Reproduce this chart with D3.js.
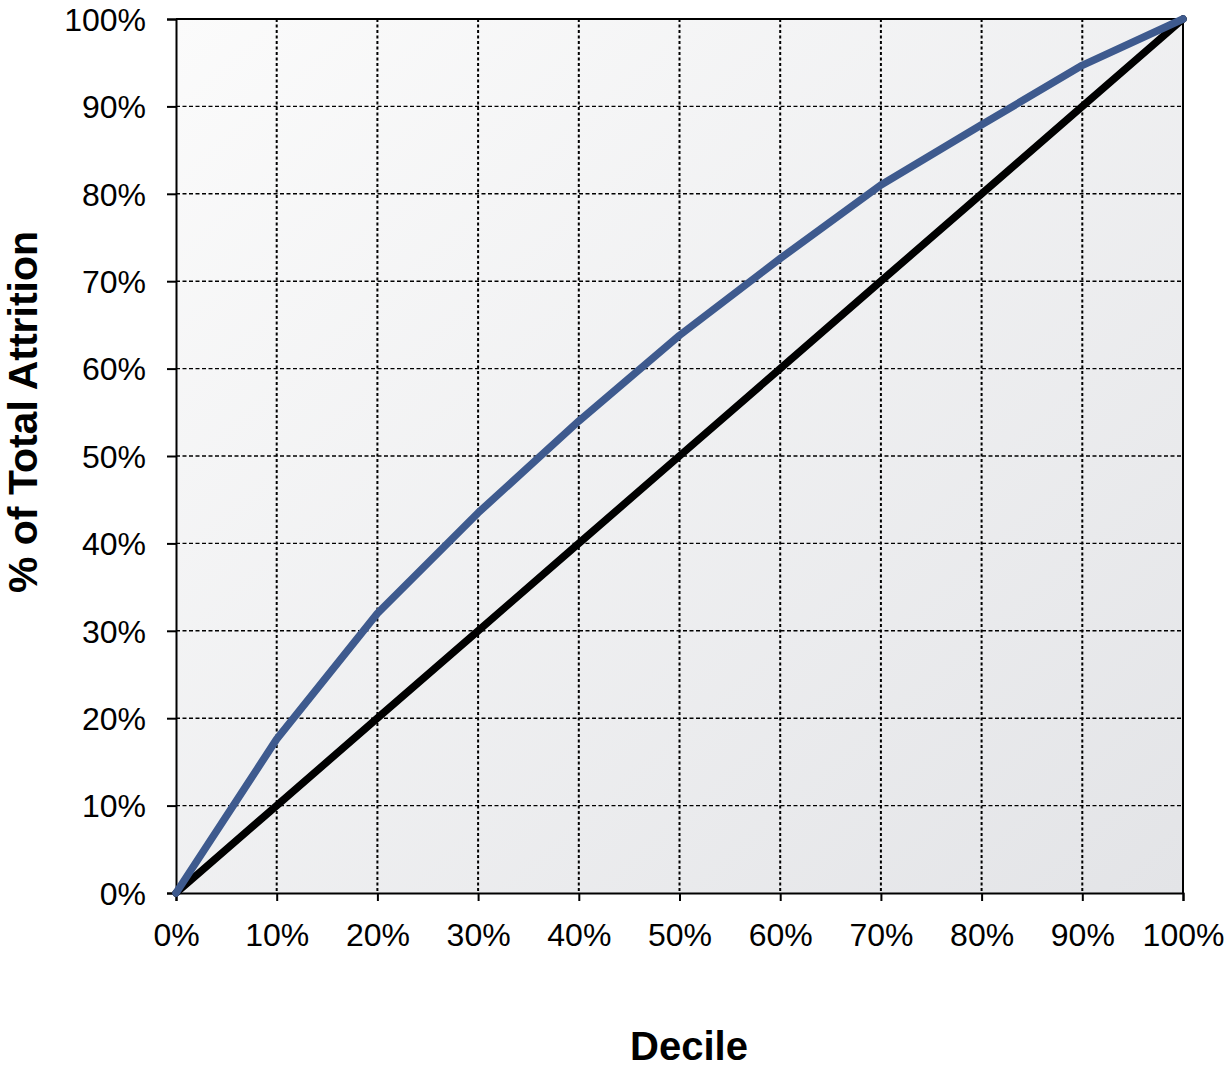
<!DOCTYPE html>
<html>
<head>
<meta charset="utf-8">
<script src="https://cdn.jsdelivr.net/npm/d3@7"></script>
<style>
  body { margin: 0; background: #fff; }
  text { font-family: "Liberation Sans", Arial, sans-serif; fill: #000; }
</style>
</head>
<body>
<div id="chart"></div>
<script>
(function() {
  // deciles (fraction of population) and cumulative attrition captured
  var deciles = [0, 0.1, 0.2, 0.3, 0.4, 0.5, 0.6, 0.7, 0.8, 0.9, 1.0];
  var modelValues = [0, 0.176, 0.32, 0.435, 0.54, 0.638, 0.726, 0.81, 0.879, 0.947, 1.0];
  var baselineValues = [0, 0.1, 0.2, 0.3, 0.4, 0.5, 0.6, 0.7, 0.8, 0.9, 1.0];
  var tickValues = [0, 0.1, 0.2, 0.3, 0.4, 0.5, 0.6, 0.7, 0.8, 0.9, 1.0];

  var WIDTH = 1227, HEIGHT = 1081;
  var margin = { left: 176, top: 19, right: 44, bottom: 188 };
  var w = WIDTH - margin.left - margin.right;
  var h = HEIGHT - margin.top - margin.bottom;

  var svg = d3.select('#chart').append('svg')
    .attr('width', WIDTH)
    .attr('height', HEIGHT);

  var defs = svg.append('defs');
  var grad = defs.append('linearGradient')
    .attr('id', 'bg')
    .attr('x1', '0%').attr('y1', '0%')
    .attr('x2', '100%').attr('y2', '100%');
  grad.append('stop').attr('offset', '0%').attr('stop-color', '#fbfbfb');
  grad.append('stop').attr('offset', '100%').attr('stop-color', '#e3e4e7');

  var g = svg.append('g')
    .attr('transform', 'translate(' + margin.left + ',' + margin.top + ')');

  var x = d3.scaleLinear().domain([0, 1]).range([0, w]);
  var y = d3.scaleLinear().domain([0, 1]).range([h, 0]);
  var pct = d3.format('.0%');

  g.append('rect')
    .attr('width', w)
    .attr('height', h)
    .style('fill', 'url(#bg)');

  // horizontal grid (dashed)
  g.selectAll('.hgrid')
    .data(tickValues.slice(1, -1))
    .enter().append('line')
      .attr('class', 'hgrid')
      .attr('x1', 0).attr('x2', w)
      .attr('y1', function(d) { return y(d); })
      .attr('y2', function(d) { return y(d); })
      .style('stroke', '#000')
      .style('stroke-width', 1.4)
      .style('stroke-dasharray', '4,2.5');

  // vertical grid (dotted)
  g.selectAll('.vgrid')
    .data(tickValues.slice(1, -1))
    .enter().append('line')
      .attr('class', 'vgrid')
      .attr('y1', 0).attr('y2', h)
      .attr('x1', function(d) { return x(d); })
      .attr('x2', function(d) { return x(d); })
      .style('stroke', '#000')
      .style('stroke-width', 2)
      .style('stroke-dasharray', '3,2.5');

  // frame top and right
  g.append('path')
    .attr('d', 'M0,0H' + w + 'V' + h)
    .style('fill', 'none')
    .style('stroke', '#000')
    .style('stroke-width', 2);

  var xAxis = g.append('g')
    .attr('transform', 'translate(0,' + h + ')')
    .call(d3.axisBottom(x).tickValues(tickValues).tickFormat(pct).tickSize(8).tickPadding(22));

  var yAxis = g.append('g')
    .call(d3.axisLeft(y).tickValues(tickValues).tickFormat(pct).tickSize(9).tickPadding(21));

  [xAxis, yAxis].forEach(function(ax) {
    ax.select('.domain').style('stroke', '#000').style('stroke-width', 2);
    ax.selectAll('.tick line').style('stroke', '#000').style('stroke-width', 2);
    ax.selectAll('.tick text')
      .style('font-size', '32px')
      .style('font-family', '"Liberation Sans", Arial, sans-serif')
      .style('fill', '#000');
  });
  yAxis.selectAll('.tick text').attr('dy', '0.35em');

  var line = d3.line()
    .x(function(d, i) { return x(deciles[i]); })
    .y(function(d) { return y(d); });

  g.append('path')
    .datum(baselineValues)
    .attr('d', line)
    .style('fill', 'none')
    .style('stroke', '#000')
    .style('stroke-width', 7.5)
    .style('stroke-linecap', 'round');

  g.append('path')
    .datum(modelValues)
    .attr('d', line)
    .style('fill', 'none')
    .style('stroke', '#3e5a8e')
    .style('stroke-width', 7.5)
    .style('stroke-linecap', 'round')
    .style('stroke-linejoin', 'round');

  svg.append('text')
    .attr('x', 689)
    .attr('y', 1060)
    .attr('text-anchor', 'middle')
    .style('font-size', '40px')
    .style('font-weight', 'bold')
    .text('Decile');

  svg.append('text')
    .attr('transform', 'translate(37,' + 412 + ') rotate(-90)')
    .attr('text-anchor', 'middle')
    .style('font-size', '41px')
    .style('font-weight', 'bold')
    .text('% of Total Attrition');
})();
</script>
</body>
</html>
